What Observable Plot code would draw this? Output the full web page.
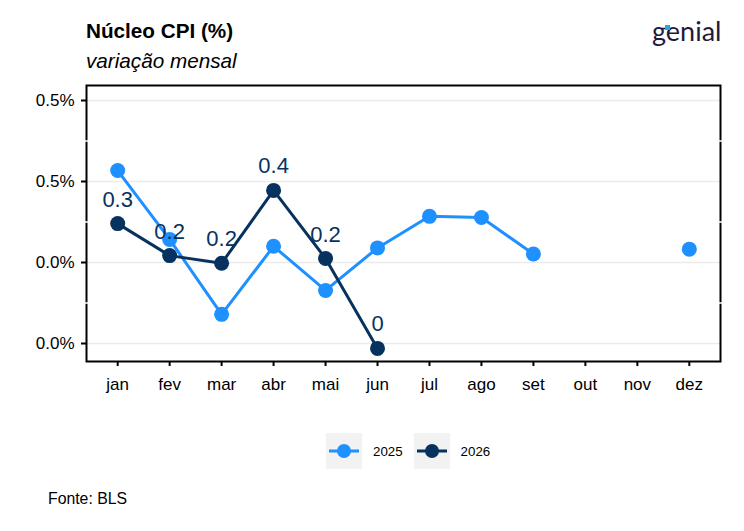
<!DOCTYPE html>
<html>
<head>
<meta charset="utf-8">
<script src="https://cdn.jsdelivr.net/npm/d3@7"></script>
<script src="https://cdn.jsdelivr.net/npm/@observablehq/plot@0.6"></script>
<style>
  body { margin: 0; background: #fff; font-family: "Liberation Sans", Arial, sans-serif; }
  #wrap { width: 744px; height: 531px; position: relative; overflow: hidden; }
  #head { position: relative; height: 74px; }
  #title { position: absolute; left: 86px; top: 21px; font-size: 20.7px; line-height: 1; font-weight: bold; color: #000; white-space: nowrap; }
  #subtitle { position: absolute; left: 86px; top: 51px; font-size: 20.7px; line-height: 1; font-style: italic; color: #000; white-space: nowrap; }
  #logo { position: absolute; left: 652px; top: 17px; font-family: "Lato", sans-serif; font-size: 27px; line-height: 1; color: #1b1b3f; }
  #logo .acc { position: absolute; left: 13px; top: 8px; width: 5px; height: 5px; background: #2aa5e0; }
  #legend { position: absolute; left: 326px; top: 433px; display: flex; align-items: center; font-size: 13.3px; }
  .key { width: 36px; height: 36px; background: #f2f2f2; }
  .lab { margin-left: 11px; margin-right: 11px; }
  #caption { position: absolute; left: 48px; top: 491px; font-size: 15.8px; line-height: 1; color: #000; }
</style>
</head>
<body>
<div id="wrap">
  <div id="head">
    <div id="title">Núcleo CPI (%)</div>
    <div id="subtitle">variação mensal</div>
    <div id="logo"><span class="acc"></span>genial</div>
  </div>
  <div id="chart"></div>
  <div id="legend"></div>
  <div id="caption">Fonte: BLS</div>
</div>
<script>
const months = ["jan","fev","mar","abr","mai","jun","jul","ago","set","out","nov","dez"];
const values2025 = [0.427, 0.257, 0.072, 0.240, 0.131, 0.236, 0.314, 0.311, 0.221, null, null, 0.233];
const values2026 = [0.296, 0.217, 0.198, 0.378, 0.210, -0.012];
const labels2026 = ["0.3", "0.2", "0.2", "0.4", "0.2", "0"];
const yTicks = [0, 0.2, 0.4, 0.6];
const yTickLabels = ["0.0%", "0.0%", "0.5%", "0.5%"];
const yMinor = [0.1, 0.3, 0.5];
const series = ["2025", "2026"];
const colors = ["#1e90ff", "#07325f"];

const d2025 = months.map((m, i) => ({month: m, value: values2025[i] == null ? NaN : values2025[i]}));
const d2026 = values2026.map((v, i) => ({month: months[i], value: v, label: labels2026[i]}));

const chart = Plot.plot({
  width: 744,
  height: 321,
  marginTop: 11,
  marginBottom: 34,
  marginLeft: 86,
  marginRight: 24,
  style: {fontFamily: "'Liberation Sans', Arial, sans-serif", fontSize: "17px", color: "#000", background: "#fff", overflow: "visible"},
  x: {type: "point", domain: months, padding: 0.6, round: false, label: null},
  y: {domain: [-0.0444, 0.637], label: null},
  marks: [
    Plot.gridY(yTicks, {stroke: "#ebebeb", strokeOpacity: 1, strokeWidth: 1.5}),
    Plot.frame({stroke: "#000", strokeWidth: 2}),
    Plot.ruleY(yMinor, {stroke: "#fff", strokeWidth: 1.5, insetLeft: -2, insetRight: -2}),
    Plot.axisY(yTicks, {tickFormat: (d, i) => yTickLabels[i], tickSize: 5, tickPadding: 7, strokeWidth: 2, fontSize: 17, label: null}),
    Plot.axisX({tickSize: 5, tickPadding: 11, strokeWidth: 2, fontSize: 17, label: null}),
    Plot.line(d2025, {x: "month", y: "value", stroke: colors[0], strokeWidth: 3}),
    Plot.dot(d2025, {x: "month", y: "value", fill: colors[0], r: 7.5}),
    Plot.line(d2026, {x: "month", y: "value", stroke: colors[1], strokeWidth: 3}),
    Plot.dot(d2026, {x: "month", y: "value", fill: colors[1], r: 7.5}),
    Plot.text(d2026, {x: "month", y: "value", text: "label", dy: -24, fill: colors[1], fontSize: 22})
  ]
});
document.getElementById("chart").appendChild(chart);

const legend = document.getElementById("legend");
series.forEach((s, i) => {
  const key = document.createElement("div");
  key.className = "key";
  key.innerHTML = `<svg width="36" height="36"><line x1="3" x2="33" y1="18" y2="18" stroke="${colors[i]}" stroke-width="3"/><circle cx="18" cy="18" r="7" fill="${colors[i]}"/></svg>`;
  legend.appendChild(key);
  const lab = document.createElement("span");
  lab.className = "lab";
  lab.textContent = s;
  legend.appendChild(lab);
});
</script>
</body>
</html>
